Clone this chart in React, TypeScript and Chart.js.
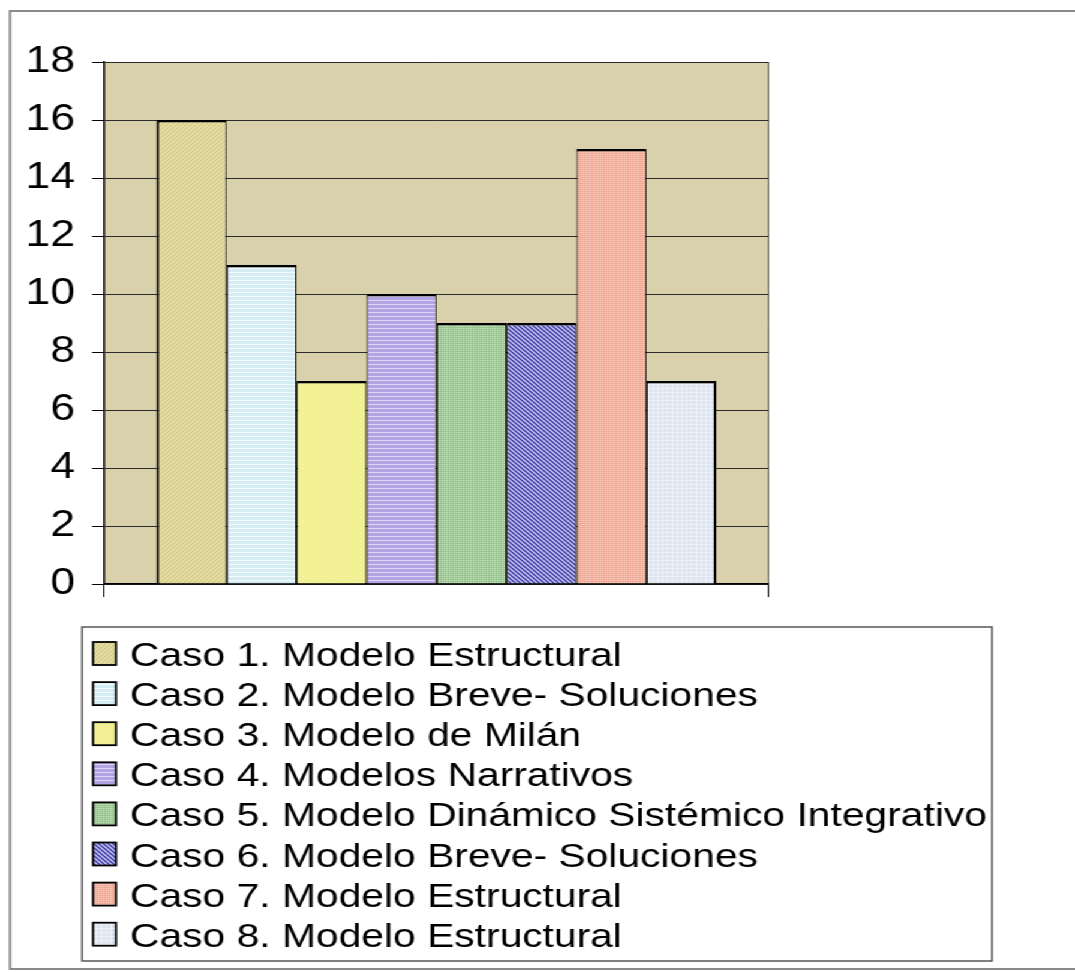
import React, { useEffect, useRef } from "react";
import { Chart, registerables } from "chart.js";

Chart.register(...registerables);

// ---- data ----
const categories = [""];
const seriesLabels = [
  "Caso 1. Modelo Estructural",
  "Caso 2. Modelo Breve- Soluciones",
  "Caso 3. Modelo de Milán",
  "Caso 4. Modelos Narrativos",
  "Caso 5. Modelo Dinámico Sistémico Integrativo",
  "Caso 6. Modelo Breve- Soluciones",
  "Caso 7. Modelo Estructural",
  "Caso 8. Modelo Estructural",
];
const seriesValues = [16, 11, 7, 10, 9, 9, 15, 7];
const yMin = 0;
const yMax = 18;
const yStep = 2;

// ---- fill styles (base colour, pattern ink, pattern kind) ----
const baseColors = ["#e4dda0", "#d6ecf5", "#f1ef8e", "#b3a4e4", "#98c48e", "#4c4cae", "#f0aa98", "#dce4f0"];
const inkColors = ["#cfc487", "#f4fbfd", "#f8f7c4", "#ddd5f6", "#d2e6cb", "#b8b8e8", "#f9d6cb", "#eef2f8"];
const patternKinds = ["diagUp", "hlines", "dots", "hlines", "dotgrid", "diagDown", "dotgrid", "grid"];

// canvas is drawn narrower and widened with a horizontal scale
const PAGE_W = 1075;
const PAGE_H = 972;
const CANVAS_W = 896;
const SX = PAGE_W / CANVAS_W;
const ix = (x: number) => x / SX;

const FONT = 'Arial, "Liberation Sans", sans-serif';

function makePattern(ctx: CanvasRenderingContext2D, kind: string, base: string, ink: string) {
  const c = document.createElement("canvas");
  const s = 4;
  c.width = s;
  c.height = s;
  const g = c.getContext("2d")!;
  g.fillStyle = base;
  g.fillRect(0, 0, s, s);
  g.fillStyle = ink;
  if (kind === "diagUp") {
    for (let i = 0; i < s; i++) g.fillRect(i, s - 1 - i, 1, 1);
  } else if (kind === "diagDown") {
    for (let i = 0; i < s; i++) {
      g.fillRect(i, i, 1, 1);
      g.fillRect((i + 1) % s, i, 1, 1);
    }
  } else if (kind === "hlines") {
    g.fillRect(0, 0, s, 1);
  } else if (kind === "dots") {
    g.fillRect(0, 0, 1, 1);
    g.fillRect(2, 2, 1, 1);
  } else if (kind === "dotgrid") {
    g.fillRect(0, 0, 1, 1);
    g.fillRect(2, 0, 1, 1);
    g.fillRect(0, 2, 1, 1);
    g.fillRect(2, 2, 1, 1);
  } else if (kind === "grid") {
    g.fillRect(0, 0, s, 1);
    g.fillRect(0, 0, 1, s);
  }
  return ctx.createPattern(c, "repeat") as CanvasPattern;
}

const plotBackground = {
  id: "plotBackground",
  beforeDraw(chart: any) {
    const { ctx, chartArea } = chart;
    ctx.save();
    // outer frame
    ctx.strokeStyle = "#8a8a8a";
    ctx.lineWidth = 2;
    ctx.strokeRect(ix(10), 11, CANVAS_W + 20, 958);
    // plot area fill
    ctx.fillStyle = "#d9d1ab";
    ctx.fillRect(chartArea.left, chartArea.top, chartArea.right - chartArea.left, chartArea.bottom - chartArea.top);
    ctx.restore();
  },
};

const boxedLegend = {
  id: "boxedLegend",
  afterDraw(chart: any) {
    const { ctx } = chart;
    const left = ix(82);
    const right = ix(992);
    const top = 627;
    const bottom = 961;
    ctx.save();
    ctx.fillStyle = "#ffffff";
    ctx.fillRect(left, top, right - left, bottom - top);
    ctx.strokeStyle = "#555555";
    ctx.lineWidth = 1.5;
    ctx.strokeRect(left, top, right - left, bottom - top);
    ctx.font = `34px ${FONT}`;
    ctx.textBaseline = "alphabetic";
    ctx.textAlign = "left";
    chart.data.datasets.forEach((ds: any, i: number) => {
      const baseY = 666 + 40.1 * i;
      const sx = ix(93);
      const sw = ix(116) - ix(93);
      const sy = baseY - 24;
      ctx.fillStyle = ds.backgroundColor;
      ctx.fillRect(sx, sy, sw, 23);
      ctx.strokeStyle = "#000";
      ctx.lineWidth = 1.8;
      ctx.strokeRect(sx, sy, sw, 23);
      ctx.fillStyle = "#000";
      ctx.fillText(ds.label, ix(130), baseY);
    });
    ctx.restore();
  },
};

export default function App() {
  const canvasRef = useRef<HTMLCanvasElement | null>(null);

  useEffect(() => {
    const canvas = canvasRef.current;
    if (!canvas) return;
    const ctx = canvas.getContext("2d")!;
    const n = seriesValues.length;
    const datasets = seriesLabels.map((label, i) => ({
      label,
      data: [seriesValues[i]],
      backgroundColor: makePattern(ctx, patternKinds[i], baseColors[i], inkColors[i]),
      borderColor: "#000000",
      borderWidth: { top: 2.4, bottom: 0, left: i === 0 ? 2.2 : 1.1, right: i === n - 1 ? 2.2 : 1.1 },
      borderSkipped: false,
      categoryPercentage: 560 / 665,
      barPercentage: 1,
    }));

    const chart = new Chart(canvas, {
      type: "bar",
      data: { labels: categories, datasets },
      plugins: [plotBackground, boxedLegend],
      options: {
        responsive: false,
        animation: false,
        devicePixelRatio: 1,
        layout: { padding: { top: 62, bottom: PAGE_H - 597, left: 0, right: ix(PAGE_W - 769) } },
        plugins: { legend: { display: false }, tooltip: { enabled: false }, title: { display: false } },
        scales: {
          x: {
            type: "category",
            offset: true,
            ticks: { display: false },
            grid: {
              display: true,
              offset: true,
              drawOnChartArea: true,
              drawTicks: true,
              tickLength: 13,
              color: "#5a5a48",
              tickColor: "#000",
              lineWidth: 1,
            },
            border: { display: true, color: "#000", width: 1.5 },
            afterFit: (scale: any) => {
              scale.height = 13;
            },
          },
          y: {
            type: "linear",
            min: yMin,
            max: yMax,
            ticks: {
              stepSize: yStep,
              color: "#000",
              padding: ix(104) - ix(12) - ix(75),
              font: { family: FONT, size: 37 },
            },
            grid: {
              color: "#2b2b2b",
              lineWidth: 1,
              tickLength: ix(12),
              tickColor: "#000",
            },
            border: { display: true, color: "#000", width: 1.5 },
            afterFit: (scale: any) => {
              scale.width = ix(104);
            },
          },
        },
      },
    } as any);

    return () => chart.destroy();
  }, []);

  return (
    <div
      style={{
        position: "absolute",
        left: 0,
        top: 0,
        width: CANVAS_W,
        height: PAGE_H,
        transform: `scaleX(${SX})`,
        transformOrigin: "0 0",
        background: "#ffffff",
      }}
    >
      <canvas ref={canvasRef} width={CANVAS_W} height={PAGE_H} />
    </div>
  );
}
